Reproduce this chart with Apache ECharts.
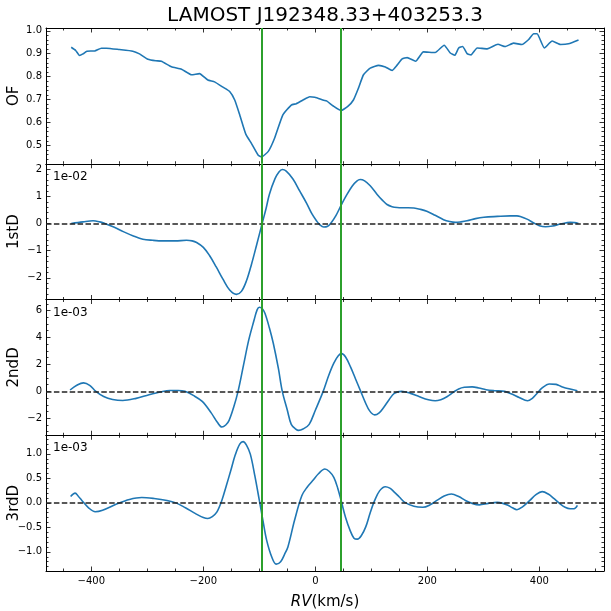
<!DOCTYPE html>
<html>
<head>
<meta charset="utf-8">
<script src="https://cdn.jsdelivr.net/npm/echarts@6/dist/echarts.min.js"></script>
<style>html,body{margin:0;padding:0;background:#fff}#c{width:611px;height:611px}</style>
</head>
<body>
<div id="c"></div>
<script>
// ---------------- DATA ----------------
const chartTitle = 'LAMOST J192348.33+403253.3';
const panelNames = ['OF', '1stD', '2ndD', '3rdD'];
const scaleTexts = ['', '1e-02', '1e-03', '1e-03'];
const vLines = [-95, 46];

const xMajorTicks = [-400, -200, 0, 200, 400];
const yMajorTicks1 = [0.5, 0.6, 0.7, 0.8, 0.9, 1.0];
const yMajorTicks2 = [-2, -1, 0, 1, 2];
const yMajorTicks3 = [-2, 0, 2, 4, 6];
const yMajorTicks4 = [-1.0, -0.5, 0.0, 0.5, 1.0];

const ofRV  = [-436,-428,-421,-415,-408,-394,-382,-373,-350,-326,-314,-299,-285,-275,-257,-239,-221,-207,-192,-180,-165,-153,-144,-135,-124,-114,-102,-96,-84,-73,-58,-43,-34,-22,-10,-1,15,20,32,46,58,68,77,86,98,113,125,137,146,155,164,179,193,214,230,241,249,256,263,271,278,289,307,326,339,354,369,381,390,396,409,423,438,452,470];
const ofVal = [0.928,0.914,0.892,0.899,0.911,0.912,0.924,0.924,0.918,0.911,0.899,0.876,0.869,0.867,0.843,0.832,0.808,0.813,0.785,0.777,0.754,0.735,0.698,0.633,0.548,0.508,0.457,0.45,0.474,0.53,0.633,0.676,0.682,0.698,0.712,0.71,0.697,0.694,0.672,0.652,0.67,0.698,0.75,0.808,0.837,0.849,0.842,0.827,0.85,0.877,0.883,0.867,0.908,0.905,0.937,0.903,0.893,0.925,0.931,0.9,0.895,0.925,0.921,0.941,0.931,0.946,0.94,0.962,0.987,0.987,0.925,0.955,0.94,0.943,0.96];

const d1RV  = [-436,-415,-397,-385,-376,-360,-343,-325,-308,-290,-272,-250,-230,-220,-212,-200,-189,-177,-165,-153,-141,-132,-123,-114,-105,-95,-88,-82,-72,-65,-59,-52,-40,-28,-16,-6,2,8,15,22,28,37,46,56,66,74,80,88,98,110,120,128,137,146,160,176,188,199,214,229,240,250,260,271,286,301,325,348,360,366,378,390,400,411,424,438,455,463,470];
const d1Val = [0,0.06,0.1,0.06,0,-0.13,-0.3,-0.46,-0.58,-0.62,-0.64,-0.64,-0.62,-0.64,-0.7,-0.88,-1.18,-1.6,-2.05,-2.45,-2.61,-2.5,-2.11,-1.5,-0.8,0,0.55,1.08,1.65,1.9,1.99,1.93,1.64,1.2,0.76,0.35,0.1,-0.05,-0.13,-0.1,0.02,0.3,0.67,1.05,1.38,1.56,1.62,1.57,1.39,1.08,0.85,0.7,0.62,0.59,0.58,0.57,0.52,0.45,0.3,0.14,0.07,0.04,0.06,0.1,0.18,0.23,0.26,0.28,0.28,0.26,0.16,0.02,-0.08,-0.12,-0.09,-0.02,0.04,0.03,0];

const d2RV  = [-438,-426,-414,-403,-392,-378,-362,-344,-320,-297,-275,-260,-245,-233,-218,-202,-186,-175,-167,-160,-154,-146,-138,-128,-119,-110,-104,-100,-95,-90,-82,-75,-66,-59,-50,-43,-35,-30,-22,-11,0,14,24,33,41,47,54,63,72,81,89,97,106,114,122,132,141,154,170,186,202,214,224,235,247,256,266,280,292,305,320,338,352,364,379,388,395,405,418,430,440,455,468];
const d2Val = [0.1,0.45,0.63,0.45,0,-0.38,-0.6,-0.68,-0.52,-0.25,-0.03,0.06,0.06,0,-0.3,-0.75,-1.6,-2.3,-2.65,-2.5,-2.15,-1.2,0,2.0,3.8,5.2,6.05,6.25,6.15,5.8,4.7,3.55,1.7,0,-1.4,-2.45,-2.8,-2.9,-2.8,-2.45,-1.4,0,1.2,2.1,2.65,2.8,2.55,1.8,0.9,0,-0.8,-1.45,-1.75,-1.6,-1.2,-0.6,-0.15,0,-0.15,-0.4,-0.62,-0.7,-0.62,-0.4,-0.05,0.18,0.3,0.33,0.25,0.12,0.05,0,-0.22,-0.45,-0.7,-0.5,-0.2,0.25,0.55,0.52,0.35,0.17,0.05];

const d3RV  = [-437,-429,-423,-417,-405,-393,-380,-354,-332,-310,-288,-265,-249,-232,-214,-200,-192,-184,-176,-167,-159,-151,-143,-135,-129,-123,-116,-108,-100,-93,-87,-78,-70,-62,-55,-49,-37,-24,-14,-5,6,17,25,33,40,46,54,62,69,75,82,90,98,106,115,125,133,141,150,160,176,192,205,217,230,243,256,268,280,293,309,325,335,344,352,360,370,383,394,405,416,427,437,446,455,462,468];
const d3Val = [0.13,0.2,0.13,0.05,-0.1,-0.18,-0.15,-0.02,0.07,0.11,0.09,0.05,0,-0.1,-0.22,-0.3,-0.32,-0.28,-0.19,0.05,0.35,0.66,0.98,1.2,1.25,1.18,0.99,0.55,0.05,-0.4,-0.76,-1.1,-1.25,-1.2,-1.05,-0.9,-0.35,0.15,0.33,0.45,0.6,0.69,0.64,0.52,0.3,0.05,-0.3,-0.56,-0.72,-0.74,-0.67,-0.49,-0.2,0.05,0.25,0.33,0.3,0.22,0.12,0.01,-0.07,-0.09,-0.04,0.05,0.14,0.18,0.13,0.05,-0.01,-0.04,-0.01,0.01,-0.01,-0.05,-0.1,-0.14,-0.08,0.05,0.17,0.23,0.18,0.08,-0.02,-0.09,-0.12,-0.12,-0.05];

// ---------------- LAYOUT / STYLE ----------------
const FONT = 'DejaVu Sans';
const XMIN = -481, XMAX = 515.5;
const LEFT = 46, RIGHT = 7, TOP = 28, PH = 135.75;
const panels = [
  {rv: ofRV, val: ofVal, ymin: 0.42, ymax: 1.012, major: yMajorTicks1, minorStep: 0.02, dec: 1, zero: false, smooth: 0.15},
  {rv: d1RV, val: d1Val, ymin: -2.8, ymax: 2.2, major: yMajorTicks2, minorStep: 0.2, dec: 0, zero: true, smooth: 0.35},
  {rv: d2RV, val: d2Val, ymin: -3.26, ymax: 6.82, major: yMajorTicks3, minorStep: 0.5, dec: 0, zero: true, smooth: 0.35},
  {rv: d3RV, val: d3Val, ymin: -1.39, ymax: 1.38, major: yMajorTicks4, minorStep: 0.1, dec: 1, zero: true, smooth: 0.35}
];

function minorList(lo, hi, step, majors) {
  const out = [];
  const start = Math.ceil(lo / step - 1e-9);
  const end = Math.floor(hi / step + 1e-9);
  for (let k = start; k <= end; k++) {
    const v = +(k * step).toFixed(6);
    if (!majors.some(m => Math.abs(m - v) < 1e-9)) out.push(v);
  }
  return out;
}
function fmt(v, dec) {
  let s = Math.abs(v) < 1e-12 ? (0).toFixed(dec) : v.toFixed(dec);
  return s.replace('-', '\u2212');
}

const grids = [], xAxes = [], yAxes = [], series = [], graphics = [];
const xMinor = minorList(XMIN, XMAX, 50, xMajorTicks);

panels.forEach((p, i) => {
  grids.push({left: LEFT, right: RIGHT, top: TOP + i * PH, height: PH, containLabel: false});
  const last = i === 3;
  ['bottom', 'top'].forEach(pos => {
    [true, false].forEach(isMajor => {
      const showLab = isMajor && pos === 'bottom' && last;
      xAxes.push({
        type: 'value', gridIndex: i, position: pos, min: XMIN, max: XMAX,
        axisLine: {show: isMajor, onZero: false, lineStyle: {color: '#000', width: 1}},
        axisTick: {show: true, inside: true, length: isMajor ? 4.5 : 2.5, lineStyle: {color: '#000', width: 0.8},
                   customValues: isMajor ? xMajorTicks : xMinor},
        axisLabel: {show: showLab, customValues: xMajorTicks, margin: 5, color: '#000', fontFamily: FONT, fontSize: 10,
                    formatter: v => fmt(v, 0)},
        splitLine: {show: false},
        name: showLab ? '{i|RV}(km/s)' : '',
        nameLocation: 'middle', nameGap: 24,
        nameTextStyle: {color: '#000', fontFamily: FONT, fontSize: 15, rich: {i: {fontStyle: 'italic', fontFamily: FONT, fontSize: 15, color: '#000'}}}
      });
    });
  });
  const yMinor = minorList(p.ymin, p.ymax, p.minorStep, p.major);
  ['left', 'right'].forEach(pos => {
    [true, false].forEach(isMajor => {
      yAxes.push({
        type: 'value', gridIndex: i, position: pos, min: p.ymin, max: p.ymax,
        axisLine: {show: isMajor, onZero: false, lineStyle: {color: '#000', width: 1}},
        axisTick: {show: true, inside: true, length: isMajor ? 4.5 : 2.5, lineStyle: {color: '#000', width: 0.8},
                   customValues: isMajor ? p.major : yMinor},
        axisLabel: {show: isMajor && pos === 'left', customValues: p.major, margin: 4, color: '#000', fontFamily: FONT, fontSize: 10,
                    formatter: v => fmt(v, p.dec)},
        splitLine: {show: false}
      });
    });
  });
  const mlData = vLines.map(v => ({xAxis: v, lineStyle: {color: '#2ca02c', width: 2, type: 'solid'}}));
  if (p.zero) mlData.unshift({yAxis: 0, lineStyle: {color: '#222', width: 1.5, type: [5.5, 2.4]}});
  series.push({
    type: 'line', xAxisIndex: i * 4, yAxisIndex: i * 4,
    data: p.rv.map((x, k) => [x, p.val[k]]),
    showSymbol: false, symbol: 'none', smooth: p.smooth,
    lineStyle: {color: '#1f77b4', width: 1.6},
    animation: false,
    markLine: {silent: true, symbol: 'none', label: {show: false}, animation: false, data: mlData}
  });
  graphics.push({
    type: 'text', x: 14, y: TOP + i * PH + PH / 2, rotation: Math.PI / 2,
    style: {text: panelNames[i], fontFamily: FONT, fontSize: 15, fill: '#000', textAlign: 'center', textVerticalAlign: 'middle'}
  });
  if (scaleTexts[i]) {
    graphics.push({
      type: 'text', x: 53, y: TOP + i * PH + 7,
      style: {text: scaleTexts[i], fontFamily: FONT, fontSize: 12, fill: '#000', textAlign: 'left', textVerticalAlign: 'top'}
    });
  }
});

graphics.push({
  type: 'text', x: 325, y: 6,
  style: {text: chartTitle, fontFamily: FONT, fontSize: 20, fill: '#000', textAlign: 'center', textVerticalAlign: 'top'}
});

const chart = echarts.init(document.getElementById('c'), null, {renderer: 'canvas'});
chart.setOption({
  animation: false,
  backgroundColor: '#fff',
  grid: grids, xAxis: xAxes, yAxis: yAxes, series: series, graphic: graphics
});
</script>
</body>
</html>
